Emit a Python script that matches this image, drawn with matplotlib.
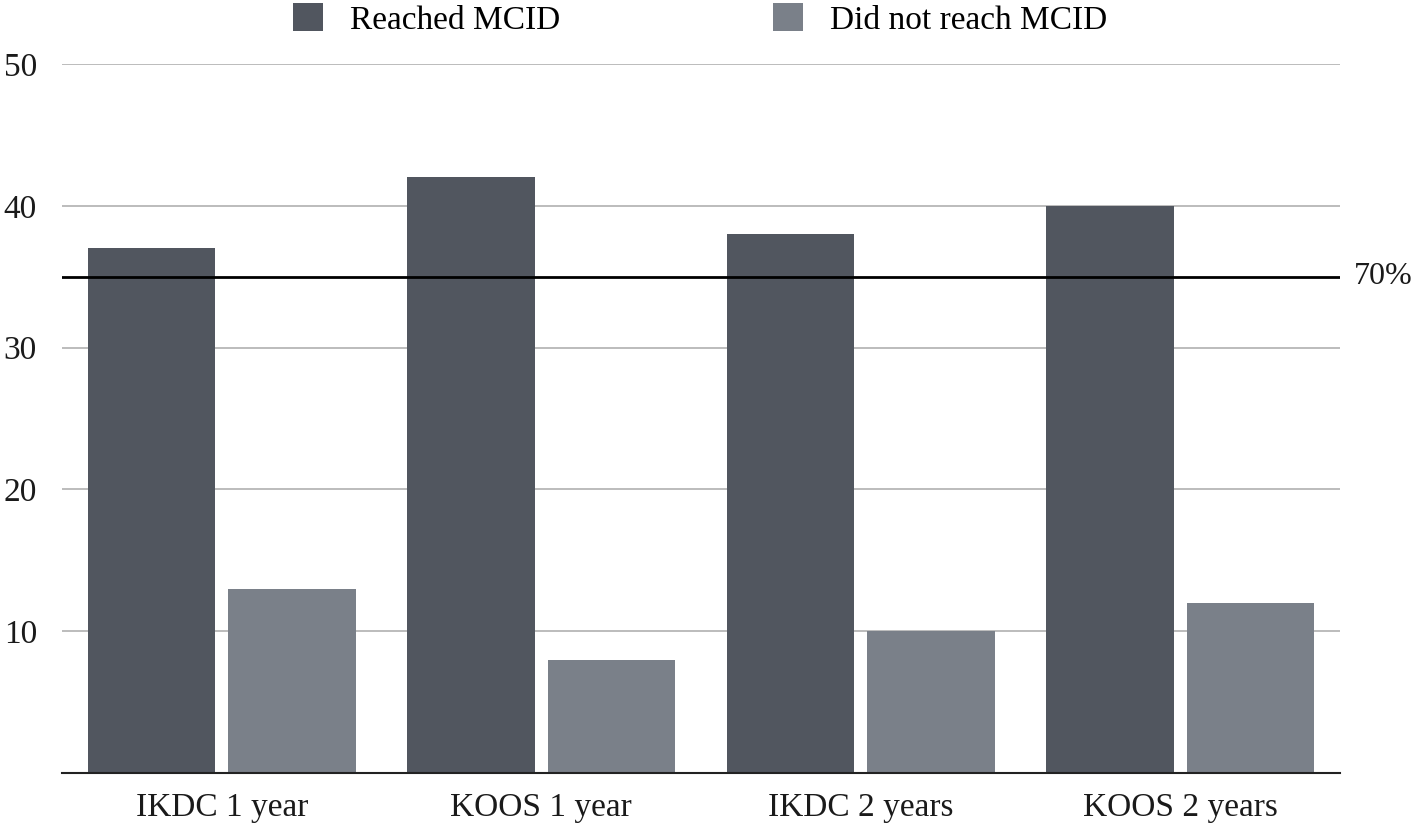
import numpy as np
import matplotlib
matplotlib.use("Agg")
from matplotlib import pyplot as plt
from matplotlib.patches import Patch

categories = ["IKDC 1 year", "KOOS 1 year", "IKDC 2 years", "KOOS 2 years"]
reached = [37, 42, 38, 40]
not_reached = [13, 8, 10, 12]
threshold = 35
threshold_label = "70%"
series_names = ["Reached MCID", "Did not reach MCID"]

dark = "#51565f"
light = "#7a8089"

plt.rcParams["font.family"] = ["Liberation Serif", "DejaVu Serif"]

fig = plt.figure(figsize=(14.16, 8.30), dpi=100)
ax = fig.add_axes([62/1416, 57/830, (1340-62)/1416, (773-64)/830])

x = np.arange(len(categories))
w = 0.40
off = 0.22
ax.bar(x - off, reached, w, color=dark, zorder=3)
ax.bar(x + off, not_reached, w, color=light, zorder=3)

ax.set_xlim(-0.5, len(categories) - 0.5)
ax.set_ylim(0, 50)
ax.set_yticks([10, 20, 30, 40, 50])
ax.set_xticks(x)
ax.set_xticklabels(categories)
ax.tick_params(axis="both", length=0, labelsize=24, colors="#1a1a1a")
ax.tick_params(axis="y", pad=18)
ax.tick_params(axis="x", pad=14)

ax.grid(axis="y", color="#aaaaaa", lw=1.1, zorder=0)
for s in ["top", "right", "left"]:
    ax.spines[s].set_visible(False)
ax.spines["bottom"].set_color("#222222")
ax.spines["bottom"].set_linewidth(1.5)
ax.spines["bottom"].set_zorder(4)

ax.axhline(threshold, color="black", lw=2, zorder=4)
ax.text(1.011, threshold, threshold_label, transform=ax.get_yaxis_transform(),
        va="center", ha="left", fontsize=23, color="#1a1a1a")

handles = [Patch(facecolor=dark), Patch(facecolor=light)]
fig.legend(handles, series_names, loc="upper center", bbox_to_anchor=(700/1416, 1.0),
           ncol=2, frameon=False, fontsize=24, handlelength=0.9, handleheight=0.9,
           handletextpad=0.8, columnspacing=6.4, borderaxespad=0, borderpad=0.1)

fig.savefig("out.png", dpi=100)
